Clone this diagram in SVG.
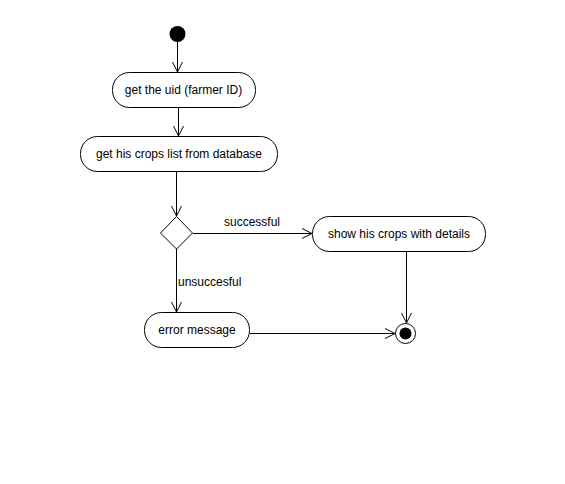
<svg xmlns="http://www.w3.org/2000/svg" width="565" height="484" viewBox="0 0 565 484">
<defs>
<style>
.n{fill:#fff;stroke:#000;stroke-width:1}
.t{font-family:"Liberation Sans",Arial,sans-serif;font-size:12px;fill:#000}
.e{fill:none;stroke:#000;stroke-width:1}
</style>
<marker id="a" markerWidth="12" markerHeight="12" refX="11" refY="6" orient="auto" markerUnits="userSpaceOnUse">
<path d="M1,1 L11,6 L1,11" fill="none" stroke="#000" stroke-width="1"/>
</marker>
</defs>
<rect width="565" height="484" fill="#fff"/>
<g id="connectors">
<path class="e" d="M177.5,42 V72" marker-end="url(#a)"/>
<path class="e" d="M178.5,108 V136" marker-end="url(#a)"/>
<path class="e" d="M176.5,172 V216" marker-end="url(#a)"/>
<path class="e" d="M193,233.5 H312" marker-end="url(#a)"/>
<text class="t" x="252" y="226" text-anchor="middle">successful</text>
<path class="e" d="M176.5,249 V312" marker-end="url(#a)"/>
<text class="t" x="178" y="286">unsuccesful</text>
<path class="e" d="M406.5,252 V323" marker-end="url(#a)"/>
<path class="e" d="M250,333.5 H395" marker-end="url(#a)"/>
</g>
<g id="start"><circle cx="177.5" cy="34" r="8" fill="#000"/></g>
<g id="getUid">
<rect class="n" x="112.5" y="72.5" width="143" height="35" rx="17" ry="17"/>
<text class="t" x="183.5" y="94" text-anchor="middle">get the uid (farmer ID)</text>
</g>
<g id="getCrops">
<rect class="n" x="80.5" y="136.5" width="197" height="35" rx="17" ry="17"/>
<text class="t" x="179" y="158" text-anchor="middle">get his crops list from database</text>
</g>
<g id="decision">
<path class="n" d="M176.5,216.5 L192.5,233 L176.5,249 L160.5,233 Z"/>
</g>
<g id="showCrops">
<rect class="n" x="312.5" y="216.5" width="173" height="35" rx="17" ry="17"/>
<text class="t" x="399" y="238" text-anchor="middle">show his crops with details</text>
</g>
<g id="error">
<rect class="n" x="144.5" y="312.5" width="105" height="35" rx="17" ry="17"/>
<text class="t" x="197" y="334" text-anchor="middle">error message</text>
</g>
<g id="end">
<circle cx="405.5" cy="333.5" r="10" fill="#fff" stroke="#000"/>
<circle cx="405.5" cy="333.5" r="6" fill="#000"/>
</g>
</svg>
